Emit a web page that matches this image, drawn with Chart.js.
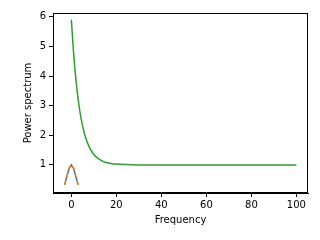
<!DOCTYPE html>
<html>
<head>
<meta charset="utf-8">
<script src="https://cdn.jsdelivr.net/npm/chart.js@4"></script>
<style>
html,body{margin:0;padding:0;background:#fff;}
#wrap{width:320px;height:240px;}
</style>
</head>
<body>
<div id="wrap"><canvas id="c" width="320" height="240"></canvas></div>
<script>
// Data
const windowX = [-3, -2, -1, 0, 1, 2, 3];
const windowBlue = [0.33, 0.61, 0.88, 1.0, 0.88, 0.61, 0.33];
const windowOrange = [0.33, 0.61, 0.88, 1.0, 0.88, 0.61, 0.33];
const spectrumX = [0, 1, 2, 3, 4, 5, 6, 7, 8, 9, 10, 11, 12, 13, 14, 15, 16, 18, 20, 25, 30, 40, 50, 60, 70, 80, 90, 100];
const spectrumY = [5.9, 4.78, 3.9, 3.23, 2.71, 2.31, 2.01, 1.78, 1.6, 1.46, 1.35, 1.27, 1.21, 1.16, 1.12, 1.09, 1.07, 1.04, 1.03, 1.01, 1.0, 1.0, 1.0, 1.0, 1.0, 1.0, 1.0, 1.0];
const xTicks = [0, 20, 40, 60, 80, 100];
const yTicks = [1, 2, 3, 4, 5, 6];
const xLabel = 'Frequency';
const yLabel = 'Power spectrum';

const pts = (xs, ys) => xs.map((x, i) => ({x: x, y: ys[i]}));

const frame = {
  id: 'frame',
  afterDraw(chart) {
    const a = chart.chartArea, ctx = chart.ctx;
    ctx.save();
    ctx.strokeStyle = '#000';
    ctx.lineWidth = 1;
    ctx.strokeRect(Math.round(a.left) + 0.5, Math.round(a.top) + 0.5, Math.round(a.right - a.left) - 1, Math.round(a.bottom - a.top) - 1);
    ctx.restore();
  }
};

const font = {family: 'DejaVu Sans', size: 10};

new Chart(document.getElementById('c'), {
  type: 'line',
  data: {
    datasets: [
      {data: pts(windowX, windowBlue), borderColor: '#1f77b4', borderWidth: 1.5, pointRadius: 0, tension: 0, fill: false, order: 2},
      {data: pts(windowX, windowOrange), borderColor: '#ff7f0e', borderWidth: 1.5, borderDash: [5, 2.5], pointRadius: 0, tension: 0, fill: false, order: 1},
      {data: pts(spectrumX, spectrumY), borderColor: '#2ca02c', borderWidth: 1.5, pointRadius: 0, tension: 0.3, cubicInterpolationMode: 'monotone', fill: false, order: 0}
    ]
  },
  options: {
    responsive: false,
    animation: false,
    events: [],
    layout: {padding: {left: 0, top: 13, right: 12, bottom: 0}},
    plugins: {legend: {display: false}, tooltip: {enabled: false}},
    scales: {
      x: {
        type: 'linear', min: -8.15, max: 105.15,
        afterBuildTicks: s => { s.ticks = xTicks.map(v => ({value: v})); },
        afterFit: s => { s.height = 47; },
        grid: {drawOnChartArea: false, drawTicks: true, tickLength: 4, color: '#000', tickWidth: 1},
        border: {display: true, color: '#000', width: 1},
        ticks: {font: font, color: '#000', padding: 2, maxRotation: 0},
        title: {display: true, text: xLabel, font: font, color: '#000', padding: {top: 0, bottom: 14}}
      },
      y: {
        type: 'linear', min: 0.05, max: 6.13,
        afterBuildTicks: s => { s.ticks = yTicks.map(v => ({value: v})); },
        afterFit: s => { s.width = 53; },
        grid: {drawOnChartArea: false, drawTicks: true, tickLength: 4, color: '#000', tickWidth: 1},
        border: {display: true, color: '#000', width: 1},
        ticks: {font: font, color: '#000', padding: 3},
        title: {display: true, text: yLabel, font: font, color: '#000', padding: {top: 22, bottom: 0}}
      }
    }
  },
  plugins: [frame]
});
</script>
</body>
</html>
